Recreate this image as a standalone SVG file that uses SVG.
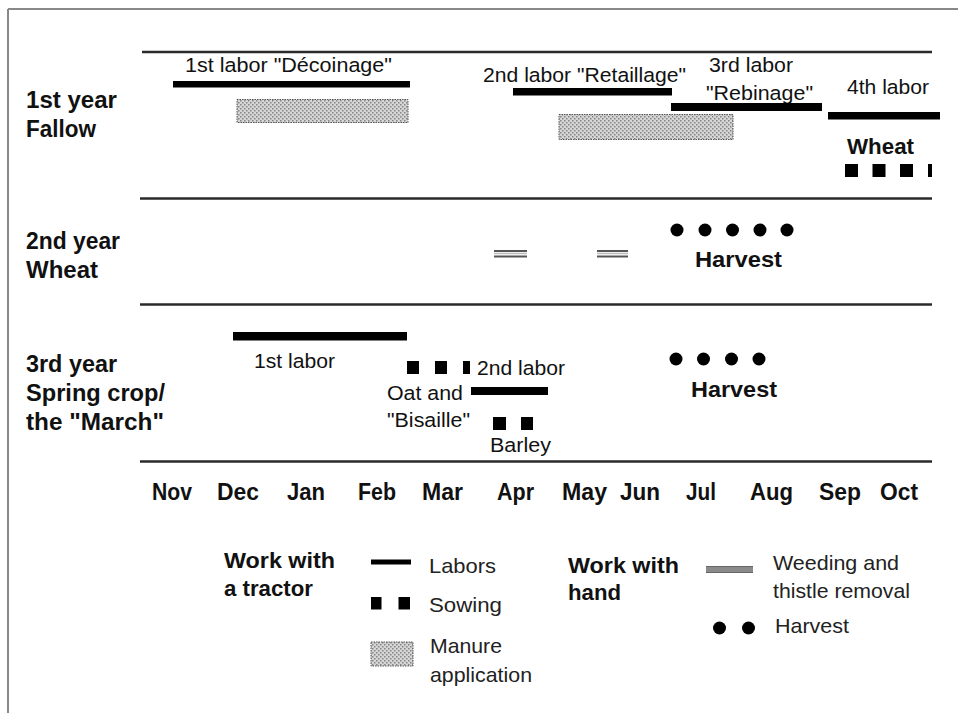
<svg xmlns="http://www.w3.org/2000/svg" width="958" height="713" viewBox="0 0 958 713">
<defs>
<pattern id="hatch" width="4" height="4" patternUnits="userSpaceOnUse">
<rect width="4" height="4" fill="#d6d6d6"/>
<rect x="0" y="0" width="1.5" height="1.5" fill="#858585"/>
<rect x="2" y="2" width="1.5" height="1.5" fill="#858585"/>
</pattern>
<style>
.t{font-family:"Liberation Sans",Arial,sans-serif;font-size:20.5px;fill:#111}
.b{font-family:"Liberation Sans",Arial,sans-serif;font-size:22px;font-weight:bold;fill:#111}
.rl{font-family:"Liberation Sans",Arial,sans-serif;font-size:23.5px;font-weight:bold;fill:#111}
.m{font-family:"Liberation Sans",Arial,sans-serif;font-size:23px;font-weight:bold;fill:#111}
.lg{font-family:"Liberation Sans",Arial,sans-serif;font-size:21px;fill:#222}
.lgb{font-family:"Liberation Sans",Arial,sans-serif;font-size:21.5px;font-weight:bold;fill:#111}
.bar{fill:#000}
.sq{fill:#000}
.dot{fill:#000}
.man{fill:url(#hatch);stroke:#555;stroke-width:1;stroke-dasharray:1.5 1}
.rule{stroke:#2a2a2a;stroke-width:2.5;fill:none}
.wd{stroke:#555;stroke-width:2;fill:none}
</style>
</defs>
<rect width="958" height="713" fill="#fff"/>
<g id="frame" fill="none" stroke="#888" stroke-width="2">
<line x1="8" y1="9" x2="958" y2="9"/>
<line x1="8" y1="9" x2="8" y2="713"/>
</g>
<g id="connectors">
<line class="rule" x1="142" y1="52" x2="932" y2="52"/>
<line class="rule" x1="140" y1="198.5" x2="932" y2="198.5"/>
<line class="rule" x1="140" y1="304.5" x2="932" y2="304.5"/>
<line class="rule" x1="140" y1="461.5" x2="932" y2="461.5"/>
</g>
<g id="row-labels">
<text class="rl" x="26" y="108" textLength="91" lengthAdjust="spacingAndGlyphs">1st year</text>
<text class="rl" x="26" y="137" textLength="70" lengthAdjust="spacingAndGlyphs">Fallow</text>
<text class="rl" x="26" y="249" textLength="94" lengthAdjust="spacingAndGlyphs">2nd year</text>
<text class="rl" x="26" y="278" textLength="72" lengthAdjust="spacingAndGlyphs">Wheat</text>
<text class="rl" x="26" y="372" textLength="91" lengthAdjust="spacingAndGlyphs">3rd year</text>
<text class="rl" x="26" y="401" textLength="139" lengthAdjust="spacingAndGlyphs">Spring crop/</text>
<text class="rl" x="26" y="430" textLength="138" lengthAdjust="spacingAndGlyphs">the "March"</text>
</g>
<g id="year1">
<g id="labor1">
<text class="t" x="185" y="72" textLength="207" lengthAdjust="spacingAndGlyphs">1st labor "Décoinage"</text>
<rect class="bar" x="173" y="81" width="237" height="6.5"/>
</g>
<rect id="manure1" class="man" x="237" y="99.5" width="171" height="23"/>
<g id="labor2">
<text class="t" x="483" y="82" textLength="203" lengthAdjust="spacingAndGlyphs">2nd labor "Retaillage"</text>
<rect class="bar" x="513" y="88" width="159" height="7.5"/>
</g>
<rect id="manure2" class="man" x="559" y="114.5" width="174" height="25"/>
<g id="labor3">
<text class="t" x="709" y="72" textLength="84" lengthAdjust="spacingAndGlyphs">3rd labor</text>
<text class="t" x="706" y="100" textLength="107" lengthAdjust="spacingAndGlyphs">"Rebinage"</text>
<rect class="bar" x="671" y="103" width="151" height="8"/>
</g>
<g id="labor4">
<text class="t" x="847" y="94" textLength="82" lengthAdjust="spacingAndGlyphs">4th labor</text>
<rect class="bar" x="828" y="112" width="112" height="7.5"/>
</g>
<g id="wheat-sowing">
<text class="b" x="847" y="154" textLength="67" lengthAdjust="spacingAndGlyphs">Wheat</text>
<rect class="sq" x="845" y="164" width="13" height="13"/>
<rect class="sq" x="872.5" y="164" width="13" height="13"/>
<rect class="sq" x="900" y="164" width="13" height="13"/>
<rect class="sq" x="928" y="164" width="4" height="13"/>
</g>
</g>
<g id="year2">
<g id="weeding1">
<line class="wd" x1="494" y1="251" x2="527" y2="251"/>
<line x1="494" y1="253.5" x2="527" y2="253.5" stroke="#bbb" stroke-width="1.5"/>
<line class="wd" x1="494" y1="256.5" x2="527" y2="256.5"/>
</g>
<g id="weeding2">
<line class="wd" x1="597" y1="251" x2="628" y2="251"/>
<line x1="597" y1="253.5" x2="628" y2="253.5" stroke="#bbb" stroke-width="1.5"/>
<line class="wd" x1="597" y1="256.5" x2="628" y2="256.5"/>
</g>
<g id="harvest2">
<circle class="dot" cx="677" cy="230" r="6.5"/>
<circle class="dot" cx="705" cy="230" r="6.5"/>
<circle class="dot" cx="732.5" cy="230" r="6.5"/>
<circle class="dot" cx="760" cy="230" r="6.5"/>
<circle class="dot" cx="787" cy="230" r="6.5"/>
<text class="b" x="695" y="267" textLength="87" lengthAdjust="spacingAndGlyphs">Harvest</text>
</g>
</g>
<g id="year3">
<g id="labor1-y3">
<rect class="bar" x="233" y="332" width="174" height="8.5"/>
<text class="t" x="254" y="368" textLength="81" lengthAdjust="spacingAndGlyphs">1st labor</text>
</g>
<g id="oat-sowing">
<rect class="sq" x="407" y="361" width="12" height="13"/>
<rect class="sq" x="435" y="361" width="12" height="13"/>
<rect class="sq" x="463" y="361" width="7" height="13"/>
<text class="t" x="387" y="400" textLength="76" lengthAdjust="spacingAndGlyphs">Oat and</text>
<text class="t" x="387" y="427" textLength="83" lengthAdjust="spacingAndGlyphs">"Bisaille"</text>
</g>
<g id="labor2-y3">
<text class="t" x="477" y="375" textLength="88" lengthAdjust="spacingAndGlyphs">2nd labor</text>
<rect class="bar" x="471" y="387" width="77" height="8"/>
</g>
<g id="barley-sowing">
<rect class="sq" x="493" y="417" width="13" height="13"/>
<rect class="sq" x="521" y="417" width="12" height="13"/>
<text class="t" x="490" y="452" textLength="61" lengthAdjust="spacingAndGlyphs">Barley</text>
</g>
<g id="harvest3">
<circle class="dot" cx="676" cy="359" r="6.5"/>
<circle class="dot" cx="703.5" cy="359" r="6.5"/>
<circle class="dot" cx="731.5" cy="359" r="6.5"/>
<circle class="dot" cx="759" cy="359" r="6.5"/>
<text class="b" x="691" y="397" textLength="86" lengthAdjust="spacingAndGlyphs">Harvest</text>
</g>
</g>
<g id="months">
<text class="m" x="152" y="500" textLength="40" lengthAdjust="spacingAndGlyphs">Nov</text>
<text class="m" x="217" y="500" textLength="42" lengthAdjust="spacingAndGlyphs">Dec</text>
<text class="m" x="287" y="500" textLength="38" lengthAdjust="spacingAndGlyphs">Jan</text>
<text class="m" x="358" y="500" textLength="38" lengthAdjust="spacingAndGlyphs">Feb</text>
<text class="m" x="422" y="500" textLength="41" lengthAdjust="spacingAndGlyphs">Mar</text>
<text class="m" x="497" y="500" textLength="37" lengthAdjust="spacingAndGlyphs">Apr</text>
<text class="m" x="562" y="500" textLength="45" lengthAdjust="spacingAndGlyphs">May</text>
<text class="m" x="620" y="500" textLength="40" lengthAdjust="spacingAndGlyphs">Jun</text>
<text class="m" x="686" y="500" textLength="30" lengthAdjust="spacingAndGlyphs">Jul</text>
<text class="m" x="750" y="500" textLength="43" lengthAdjust="spacingAndGlyphs">Aug</text>
<text class="m" x="819" y="500" textLength="42" lengthAdjust="spacingAndGlyphs">Sep</text>
<text class="m" x="880" y="500" textLength="38" lengthAdjust="spacingAndGlyphs">Oct</text>
</g>
<g id="legend-tractor">
<text class="lgb" x="224" y="568" textLength="111" lengthAdjust="spacingAndGlyphs">Work with</text>
<text class="lgb" x="224" y="596" textLength="89" lengthAdjust="spacingAndGlyphs">a tractor</text>
<rect class="bar" x="371" y="559.5" width="40" height="5"/>
<text class="lg" x="429" y="573" textLength="67" lengthAdjust="spacingAndGlyphs">Labors</text>
<rect class="sq" x="371" y="597" width="10.5" height="12.5"/>
<rect class="sq" x="398.5" y="597" width="11.5" height="12.5"/>
<text class="lg" x="429" y="612" textLength="73" lengthAdjust="spacingAndGlyphs">Sowing</text>
<rect class="man" x="371" y="642" width="42" height="24"/>
<text class="lg" x="430" y="653" textLength="72" lengthAdjust="spacingAndGlyphs">Manure</text>
<text class="lg" x="430" y="682" textLength="102" lengthAdjust="spacingAndGlyphs">application</text>
</g>
<g id="legend-hand">
<text class="lgb" x="568" y="573" textLength="111" lengthAdjust="spacingAndGlyphs">Work with</text>
<text class="lgb" x="568" y="600" textLength="53" lengthAdjust="spacingAndGlyphs">hand</text>
<rect x="706" y="566" width="47" height="7" fill="#8a8a8a"/>
<line x1="706" y1="566.5" x2="753" y2="566.5" stroke="#666" stroke-width="1.2"/>
<line x1="706" y1="572.5" x2="753" y2="572.5" stroke="#666" stroke-width="1.2"/>
<text class="lg" x="773" y="570" textLength="126" lengthAdjust="spacingAndGlyphs">Weeding and</text>
<text class="lg" x="773" y="598" textLength="137" lengthAdjust="spacingAndGlyphs">thistle removal</text>
<circle class="dot" cx="719.5" cy="628" r="6.5"/>
<circle class="dot" cx="748.5" cy="628" r="6.5"/>
<text class="lg" x="775" y="633" textLength="74" lengthAdjust="spacingAndGlyphs">Harvest</text>
</g>
</svg>
